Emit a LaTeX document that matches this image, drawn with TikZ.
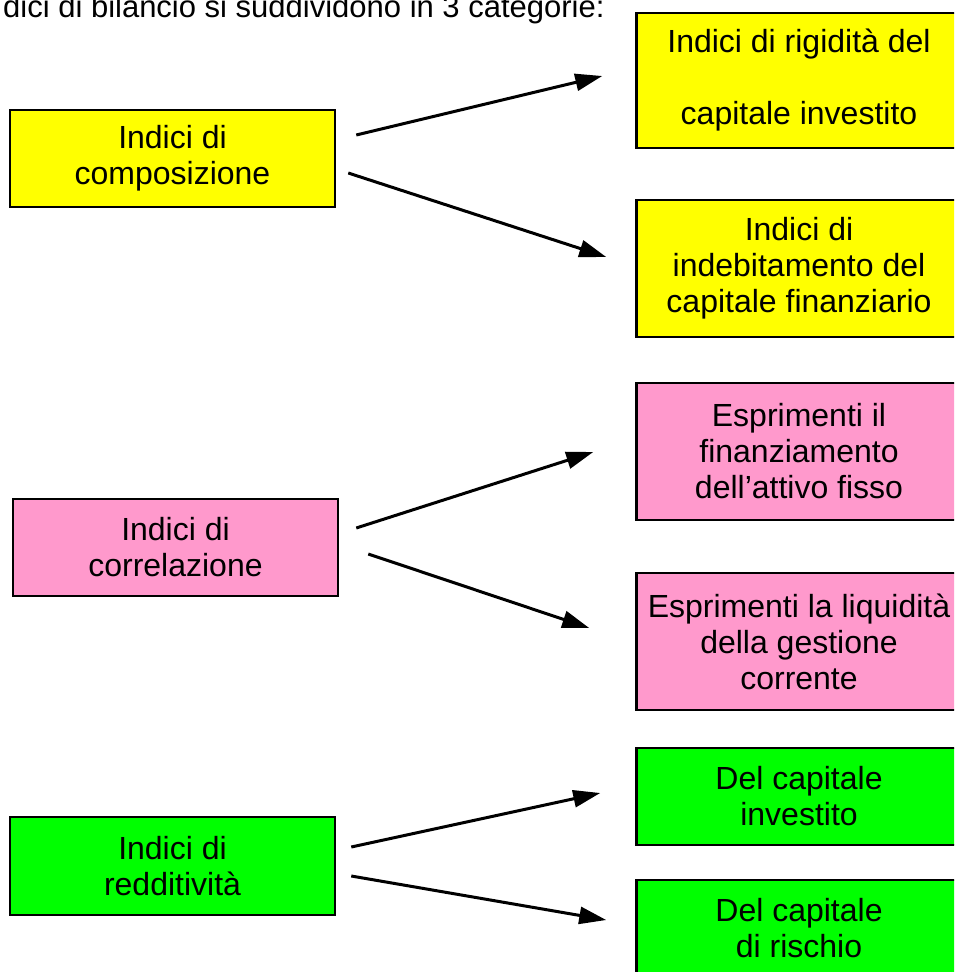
\documentclass[tikz,border=0pt]{standalone}
\usepackage{fontspec}
\setmainfont{Liberation Sans}
\usetikzlibrary{arrows.meta,calc}
\definecolor{boxyellow}{HTML}{FFFF00}
\definecolor{boxpink}{HTML}{FF99CC}
\definecolor{boxgreen}{HTML}{00FF00}
\tikzset{
  catbox/.style={draw=black, line width=2.5pt, minimum width=325pt, inner sep=0pt,
    align=center, font=\fontsize{32}{36}\selectfont, text=black},
  arr/.style={line width=3pt, -{Triangle[length=27pt,width=17pt]}}
}
\begin{document}
\begin{tikzpicture}[x=1pt,y=-1pt]
\useasboundingbox (0,0) rectangle (954,972);
\clip (0,0) rectangle (954,972);
\fill[white] (0,0) rectangle (954,972);

\node[anchor=base west, font=\fontsize{31}{36}\selectfont, inner sep=0pt] (title) at (3,17) {dici di bilancio si suddividono in 3 categorie:};

% left boxes
\node[catbox, fill=boxyellow, minimum height=97pt] (A) at (172.5,158.5) {Indici di\\composizione};
\node[catbox, fill=boxpink, minimum height=97pt] (D) at (175.5,547.5) {Indici di\\correlazione};
\node[catbox, fill=boxgreen, minimum height=98pt] (G) at (172.5,866) {Indici di\\redditività};

% right boxes
\node[catbox, fill=boxyellow, minimum height=135pt] (B) at (799,80.5) {Indici di rigidità del\\[36pt]capitale investito};
\node[catbox, fill=boxyellow, minimum height=137pt] (C) at (799,268.5) {Indici di\\indebitamento del\\capitale finanziario};
\node[catbox, fill=boxpink, minimum height=137pt] (E) at (799,451.5) {Esprimenti il\\finanziamento\\dell’attivo fisso};
\node[catbox, fill=boxpink, minimum height=137pt] (F) at (799,641.5) {Esprimenti la liquidità\\della gestione\\corrente};
\node[catbox, fill=boxgreen, minimum height=97pt] (H) at (799,796.5) {Del capitale\\investito};
\node[catbox, fill=boxgreen, minimum height=97pt] (I) at (799,928.5) {Del capitale\\di rischio};

% arrow endpoints
\coordinate (a1s) at ($(A.east)+(20,-23.5)$);
\coordinate (a1e) at ($(B.west)+(-33,-4.5)$);
\coordinate (a2s) at ($(A.east)+(12,14.5)$);
\coordinate (a2e) at ($(C.west)+(-29,-11.5)$);
\coordinate (d1s) at ($(D.east)+(17,-19.5)$);
\coordinate (d1e) at ($(E.west)+(-42,0.5)$);
\coordinate (d2s) at ($(D.east)+(29,6.5)$);
\coordinate (d2e) at ($(F.west)+(-46,-13.5)$);
\coordinate (g1s) at ($(G.east)+(15,-19)$);
\coordinate (g1e) at ($(H.west)+(-35,-3.5)$);
\coordinate (g2s) at ($(G.east)+(15,10)$);
\coordinate (g2e) at ($(I.west)+(-29,-8.5)$);

\draw[arr] (a1s) -- (a1e);
\draw[arr] (a2s) -- (a2e);
\draw[arr] (d1s) -- (d1e);
\draw[arr] (d2s) -- (d2e);
\draw[arr] (g1s) -- (g1e);
\draw[arr] (g2s) -- (g2e);
\end{tikzpicture}
\end{document}
